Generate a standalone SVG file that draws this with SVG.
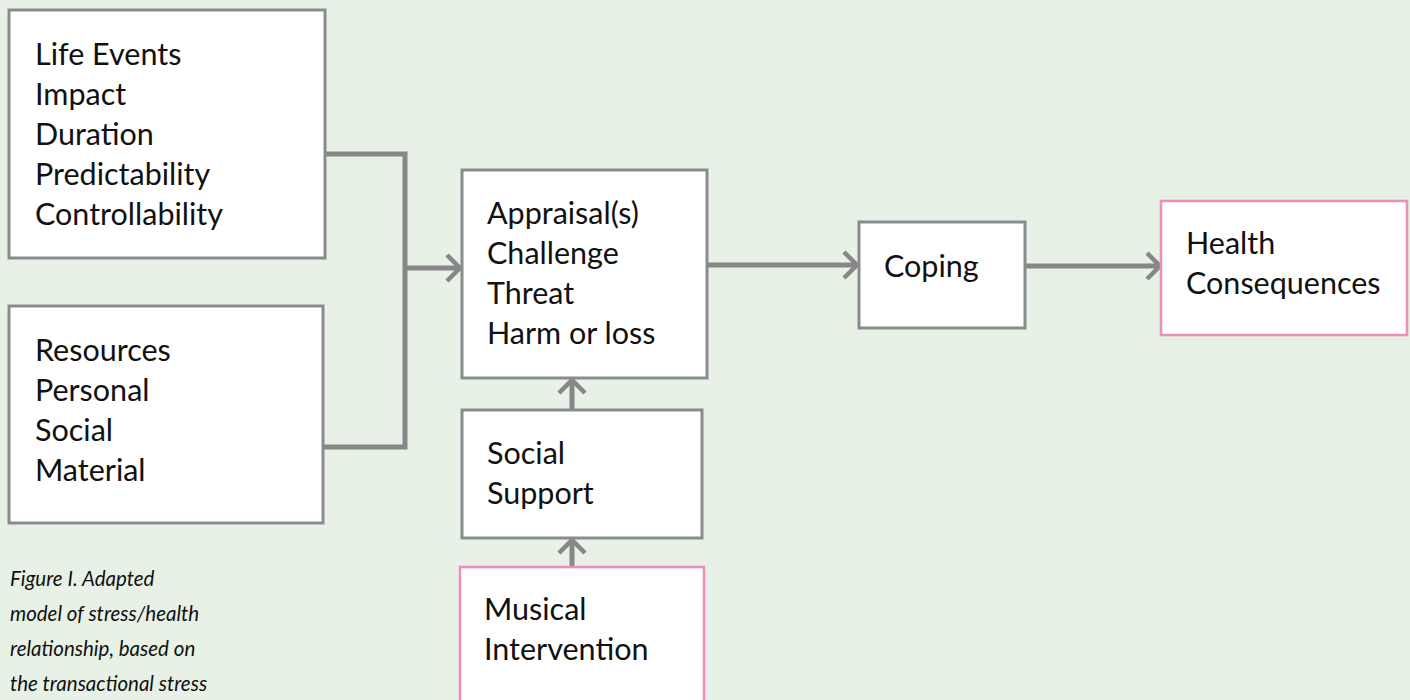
<svg xmlns="http://www.w3.org/2000/svg" width="1410" height="700" viewBox="0 0 1410 700">
<defs>
<style>
.box{fill:#fff;stroke:#8a8b8d;stroke-width:3}
.pink{fill:#fff;stroke:#f08cb8;stroke-width:2.5}
.t{font-family:Lato,"Open Sans",sans-serif;font-size:30.5px;fill:#111}
.cap{font-family:Lato,"Open Sans",sans-serif;font-size:20.5px;font-style:italic;fill:#111}
.c{fill:none;stroke:#87878a;stroke-width:5}
</style>
<marker id="ah" markerUnits="userSpaceOnUse" markerWidth="22" markerHeight="30" refX="16" refY="15" orient="auto">
<path d="M3,2 L16,15 L3,28" fill="none" stroke="#87878a" stroke-width="4.5"/>
</marker>
</defs>
<rect width="1410" height="700" fill="#e7f1e5"/>
<g id="connectors">
<polyline class="c" points="325,154 405,154 405,447 323,447"/>
<line class="c" x1="405" y1="268" x2="460" y2="268" marker-end="url(#ah)"/>
<line class="c" x1="704" y1="265" x2="857" y2="265" marker-end="url(#ah)"/>
<line class="c" x1="1025" y1="266" x2="1160" y2="266" marker-end="url(#ah)"/>
<line class="c" x1="572" y1="410" x2="572" y2="380" marker-end="url(#ah)"/>
<line class="c" x1="572" y1="567" x2="572" y2="540" marker-end="url(#ah)"/>
</g>
<g id="life-events">
<rect class="box" x="9" y="10" width="316" height="248"/>
<text class="t" x="35" y="65">Life Events</text>
<text class="t" x="35" y="105">Impact</text>
<text class="t" x="35" y="145">Duration</text>
<text class="t" x="35" y="185">Predictability</text>
<text class="t" x="35" y="225">Controllability</text>
</g>
<g id="resources">
<rect class="box" x="9" y="306" width="314" height="217"/>
<text class="t" x="35" y="361">Resources</text>
<text class="t" x="35" y="401">Personal</text>
<text class="t" x="35" y="441">Social</text>
<text class="t" x="35" y="481">Material</text>
</g>
<g id="appraisal">
<rect class="box" x="462" y="170" width="245" height="208"/>
<text class="t" x="487" y="224">Appraisal(s)</text>
<text class="t" x="487" y="264">Challenge</text>
<text class="t" x="487" y="304">Threat</text>
<text class="t" x="487" y="344">Harm or loss</text>
</g>
<g id="social-support">
<rect class="box" x="462" y="410" width="240" height="128"/>
<text class="t" x="487" y="464">Social</text>
<text class="t" x="487" y="504">Support</text>
</g>
<g id="musical-intervention">
<rect class="pink" x="460" y="567" width="244" height="150"/>
<text class="t" x="484" y="620">Musical</text>
<text class="t" x="484" y="660">Intervention</text>
</g>
<g id="coping">
<rect class="box" x="859" y="222" width="166" height="106"/>
<text class="t" x="884" y="277">Coping</text>
</g>
<g id="health-consequences">
<rect class="pink" x="1161" y="201" width="246" height="134"/>
<text class="t" x="1186" y="254">Health</text>
<text class="t" x="1186" y="294">Consequences</text>
</g>
<g id="caption">
<text class="cap" x="10" y="586">Figure I. Adapted</text>
<text class="cap" x="10" y="621">model of stress/health</text>
<text class="cap" x="10" y="656">relationship, based on</text>
<text class="cap" x="10" y="691">the transactional stress</text>
</g>
</svg>
